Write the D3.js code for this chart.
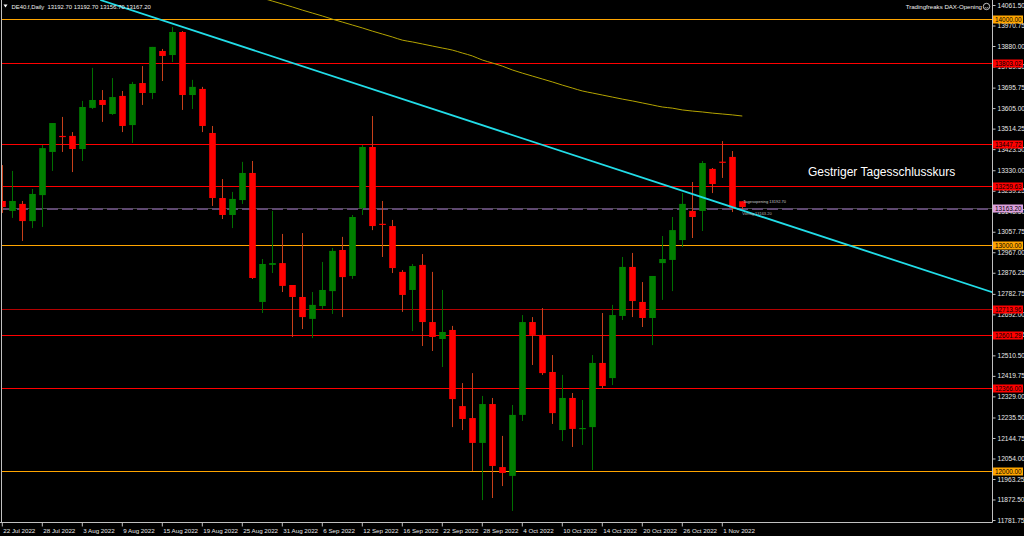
<!DOCTYPE html>
<html><head><meta charset="utf-8">
<script src="https://cdn.jsdelivr.net/npm/d3@7"></script>
<style>body{margin:0;background:#000;overflow:hidden}svg{display:block}</style>
</head><body>
<svg id="c" width="1024" height="536"></svg>
<script>
// ---------- DATA ----------
const dates = ["2022-07-22","2022-07-25","2022-07-26","2022-07-27","2022-07-28","2022-07-29",
"2022-08-01","2022-08-02","2022-08-03","2022-08-04","2022-08-05","2022-08-08","2022-08-09","2022-08-10","2022-08-11","2022-08-12",
"2022-08-15","2022-08-16","2022-08-17","2022-08-18","2022-08-19","2022-08-22","2022-08-23","2022-08-24","2022-08-25","2022-08-26",
"2022-08-29","2022-08-30","2022-08-31","2022-09-01","2022-09-02","2022-09-05","2022-09-06","2022-09-07","2022-09-08","2022-09-09",
"2022-09-12","2022-09-13","2022-09-14","2022-09-15","2022-09-16","2022-09-19","2022-09-20","2022-09-21","2022-09-22","2022-09-23",
"2022-09-26","2022-09-27","2022-09-28","2022-09-29","2022-09-30","2022-10-03","2022-10-04","2022-10-05","2022-10-06","2022-10-07",
"2022-10-10","2022-10-11","2022-10-12","2022-10-13","2022-10-14","2022-10-17","2022-10-18","2022-10-19","2022-10-20","2022-10-21",
"2022-10-24","2022-10-25","2022-10-26","2022-10-27","2022-10-28","2022-10-31","2022-11-01","2022-11-02","2022-11-03"];
const opens  = [13194,13150,13181,13105,13220,13411,13482,13482,13424,13606,13641,13579,13659,13530,13716,13672,
13858,13840,13942,13663,13690,13495,13207,13132,13198,13318,12747,12911,12919,12822,12769,12672,12729,12795,12977,12862,
13163,13433,13093,13083,12880,12800,12911,12658,12583,12623,12286,12233,12123,12295,12016,11977,12247,12658,12601,12437,
12180,12322,12185,12193,12477,12410,12685,12902,12747,12676,12919,12933,13021,13150,13150,13336,13368,13389,13192.7];
const highs  = [13353,13327,13194,13247,13442,13539,13566,13499,13637,13783,13685,13738,13681,13721,13791,13876,
13867,13964,13946,13730,13699,13526,13291,13234,13367,13371,12937,13150,13048,12822,13052,12791,12924,12986,13035,13132,
13442,13570,13194,13110,12888,12915,12959,12880,12800,12641,12388,12432,12331,12322,12154,12291,12689,12680,12720,12512,
12424,12344,12313,12512,12698,12734,12946,12964,12835,12862,13039,13123,13229,13278,13371,13340,13459,13415,13192.7];
const lows   = [13141,13119,13017,13074,13079,13327,13411,13322,13371,13601,13544,13575,13499,13451,13619,13645,
13725,13809,13597,13601,13499,13172,13114,13074,13181,12849,12698,12875,12791,12592,12627,12587,12716,12694,12680,12849,
13132,13065,12946,12875,12703,12618,12552,12530,12459,12193,12180,11999,11870,11879,11932,11822,12220,12468,12424,12207,
12131,12105,12114,12003,12366,12379,12667,12680,12636,12556,12756,12795,12990,13030,13061,13229,13296,13145,13156.7];
const closes = [13167,13194,13105,13225,13428,13539,13480,13424,13610,13641,13619,13654,13526,13712,13672,13876,
13836,13942,13663,13699,13526,13207,13132,13203,13318,12853,12915,12919,12818,12769,12680,12734,12800,12973,12857,13123,
13433,13083,13091,12897,12778,12906,12658,12592,12614,12317,12229,12123,12295,12021,11990,12247,12658,12601,12432,12255,
12322,12185,12189,12477,12375,12689,12902,12751,12676,12862,12937,13065,13181,13123,13362,13269,13366,13163.2,13167.2];

// moving average, first value belongs to bar index maStart
const maStart = 26;
const maValues = [14092,14079,14066,14053,14039,14026,14013,13999,13986,13973,13960,13946,13933,13920,13906,
13898,13889,13880,13871,13862,13849,13836,13818,13805,13791,13774,13760,13747,13734,13721,13707,13694,13681,
13672,13663,13654,13645,13637,13628,13619,13610,13605,13597,13592,13588,13583,13579,13575,13570];

// trend line anchors (bar index, price)
const trendIdx = [9.8, 99];
const trendPrice = [14083.6, 12790.0];

// horizontal levels
const levelValues = [14000.00,13803.02,13447.72,13259.63,13000.00,12713.96,12601.29,12366.00,12000.00];
const levelKinds  = ["round","res","res","res","round","dark","res","res","round"];
const prevClose = 13163.20;

const priceTicks = [14061.50,13970.75,13880.00,13789.50,13695.75,13605.00,13514.25,13423.50,13330.00,13239.25,
13148.50,13057.75,12967.00,12876.25,12782.75,12692.00,12601.25,12510.50,12419.75,12329.00,12235.50,12144.75,
12054.00,11963.25,11872.50,11781.75];
const dateTickIdx = [0,4,8,12,16,20,24,28,32,36,40,44,48,52,56,60,64,68,72];
const dateTickLabels = ["22 Jul 2022","28 Jul 2022","3 Aug 2022","9 Aug 2022","15 Aug 2022","19 Aug 2022",
"25 Aug 2022","31 Aug 2022","6 Sep 2022","12 Sep 2022","16 Sep 2022","22 Sep 2022","28 Sep 2022","4 Oct 2022",
"10 Oct 2022","14 Oct 2022","20 Oct 2022","26 Oct 2022","1 Nov 2022"];

const headerText = "DE40.f,Daily  13192.70 13192.70 13156.70 13167.20";
const titleRight = "Tradingfreaks DAX-Opening";
const annotation = "Gestriger Tagesschlusskurs";

// ---------- DRAW ----------
const svg = d3.select("#c");
const FONT = "'Liberation Sans', Arial, sans-serif";
const R = 992, B = 522, L = 2;
svg.append("rect").attr("width",1024).attr("height",536).attr("fill","#000");

const x = d3.scaleLinear().domain([0,99]).range([2.3,992.3]);
const y = d3.scaleLinear().domain([11781.75,14061.5]).range([520,5]);

svg.append("defs").append("clipPath").attr("id","clip")
  .append("rect").attr("x",L).attr("y",0).attr("width",R-L).attr("height",B);
const g = svg.append("g").attr("clip-path","url(#clip)");

// levels
const levelColor = {round:"#ffa500", res:"#ff0000", dark:"#b40000"};
g.selectAll("line.lvl").data(levelValues).join("line")
  .attr("x1",L).attr("x2",R).attr("y1",d=>Math.round(y(d))+0.5).attr("y2",d=>Math.round(y(d))+0.5)
  .attr("stroke",(d,i)=>levelColor[levelKinds[i]]).attr("stroke-width",1.2);

// previous close line
const pcY = Math.round(y(prevClose))+0.5;
g.append("line").attr("x1",L).attr("x2",R).attr("y1",pcY).attr("y2",pcY)
  .attr("stroke","#4a4a4a").attr("stroke-width",1);
g.append("line").attr("x1",L).attr("x2",R).attr("y1",pcY+0.5).attr("y2",pcY+0.5)
  .attr("stroke","#5e4870").attr("stroke-width",2).attr("stroke-dasharray","11,4");

// moving average
const maLine = d3.line().x((d,i)=>x(maStart+i)).y(d=>y(d)).curve(d3.curveMonotoneX);
g.append("path").datum(maValues).attr("d",maLine).attr("fill","none")
  .attr("stroke","#b4a400").attr("stroke-width",1);

// candles
const idx = d3.range(dates.length);
const bw = 6.6;
g.selectAll("line.wick").data(idx).join("line")
  .attr("x1",i=>Math.round(x(i))+0.5).attr("x2",i=>Math.round(x(i))+0.5)
  .attr("y1",i=>y(highs[i])).attr("y2",i=>y(lows[i]))
  .attr("stroke",i=>closes[i]>=opens[i]?"#007000":"#c8401a").attr("stroke-width",1);
g.selectAll("rect.body").data(idx).join("rect")
  .attr("x",i=>Math.round(x(i))+0.5-bw/2).attr("width",bw)
  .attr("y",i=>y(Math.max(opens[i],closes[i])))
  .attr("height",i=>Math.max(1.2, Math.abs(y(opens[i])-y(closes[i]))))
  .attr("fill",i=>closes[i]>=opens[i]?"#008000":"#ff0000");

// trend line
g.append("line").attr("x1",x(trendIdx[0])).attr("y1",y(trendPrice[0]))
  .attr("x2",x(trendIdx[1])).attr("y2",y(trendPrice[1]))
  .attr("stroke","#22dde8").attr("stroke-width",1.8);

// tiny labels at last bar
const lastI = dates.length-1;
g.append("text").attr("x",x(lastI)+1).attr("y",y(opens[lastI])+1.5)
  .attr("font-size",4).attr("fill","#c8c8c8").attr("font-family",FONT)
  .text("Tagesopening 13192.70");
g.append("text").attr("x",x(lastI)).attr("y",y(prevClose)+7)
  .attr("font-size",4).attr("fill","#b0b0b0").attr("font-family",FONT)
  .text("Vortag 13163.20");

// annotation
svg.append("text").attr("x",808).attr("y",175.5).attr("font-size",12).attr("fill","#fff")
  .attr("font-family",FONT).text(annotation);

// frame
svg.append("line").attr("x1",1.5).attr("x2",1.5).attr("y1",0).attr("y2",B).attr("stroke","#c0c0c0");
svg.append("line").attr("x1",0).attr("x2",R+0.5).attr("y1",B+0.5).attr("y2",B+0.5).attr("stroke","#c0c0c0");
svg.append("line").attr("x1",R+0.5).attr("x2",R+0.5).attr("y1",0).attr("y2",B+0.5).attr("stroke","#c0c0c0");

// right axis
const ya = svg.append("g").attr("transform",`translate(${R+0.5},0)`)
  .call(d3.axisRight(y).tickValues(priceTicks).tickFormat(d=>d.toFixed(2)).tickSize(3).tickPadding(2));
ya.select(".domain").remove();
ya.selectAll("line").attr("stroke","#c0c0c0");
ya.selectAll("text").attr("fill","#e8e8e8").attr("font-size",6.6).attr("font-family",FONT);

// bottom axis
const xa = svg.append("g").attr("transform",`translate(-0.5,${B+0.5})`)
  .call(d3.axisBottom(x).tickValues(dateTickIdx).tickFormat((d,k)=>dateTickLabels[k]).tickSize(4).tickPadding(2));
xa.select(".domain").remove();
xa.selectAll("line").attr("stroke","#c0c0c0");
xa.selectAll("text").attr("fill","#e8e8e8").attr("font-size",6.2).attr("font-family",FONT)
  .attr("text-anchor","start").attr("dx","1");

// level labels (cover the tick labels underneath, as in the terminal)
const boxColor = {round:"#ffa500", res:"#ff0000", dark:"#ff0000"};
const lab = svg.append("g");
levelValues.forEach((v,i)=>{
  const yy = Math.round(y(v))+0.5;
  lab.append("rect").attr("x",993).attr("y",yy-4).attr("width",30).attr("height",8).attr("fill",boxColor[levelKinds[i]]);
  lab.append("text").attr("x",995).attr("y",yy+2.3).attr("font-size",6.4).attr("font-family",FONT)
    .attr("fill","#000").text(v.toFixed(2));
});
lab.append("rect").attr("x",993).attr("y",pcY-4).attr("width",30).attr("height",8).attr("fill","#dda0dd");
lab.append("text").attr("x",995).attr("y",pcY+2.3).attr("font-size",6.4).attr("font-family",FONT)
  .attr("fill","#000").text(prevClose.toFixed(2));

// header
svg.append("path").attr("d","M3.5,4.5 L7.5,4.5 L5.5,7.5 Z").attr("fill","#fff");
svg.append("text").attr("x",11.5).attr("y",8.8).attr("font-size",5.9).attr("fill","#f0f0f0")
  .attr("font-family",FONT).attr("xml:space","preserve").style("white-space","pre").text(headerText);
svg.append("text").attr("x",982).attr("y",8.8).attr("font-size",6.1).attr("fill","#f0f0f0")
  .attr("font-family",FONT).attr("text-anchor","end").text(titleRight);
svg.append("circle").attr("cx",986.5).attr("cy",6.5).attr("r",3.2).attr("fill","none").attr("stroke","#f0f0f0").attr("stroke-width",0.8);
svg.append("path").attr("d","M984.8,7.3 Q986.5,9 988.2,7.3").attr("fill","none").attr("stroke","#f0f0f0").attr("stroke-width",0.6);
</script>
</body></html>
